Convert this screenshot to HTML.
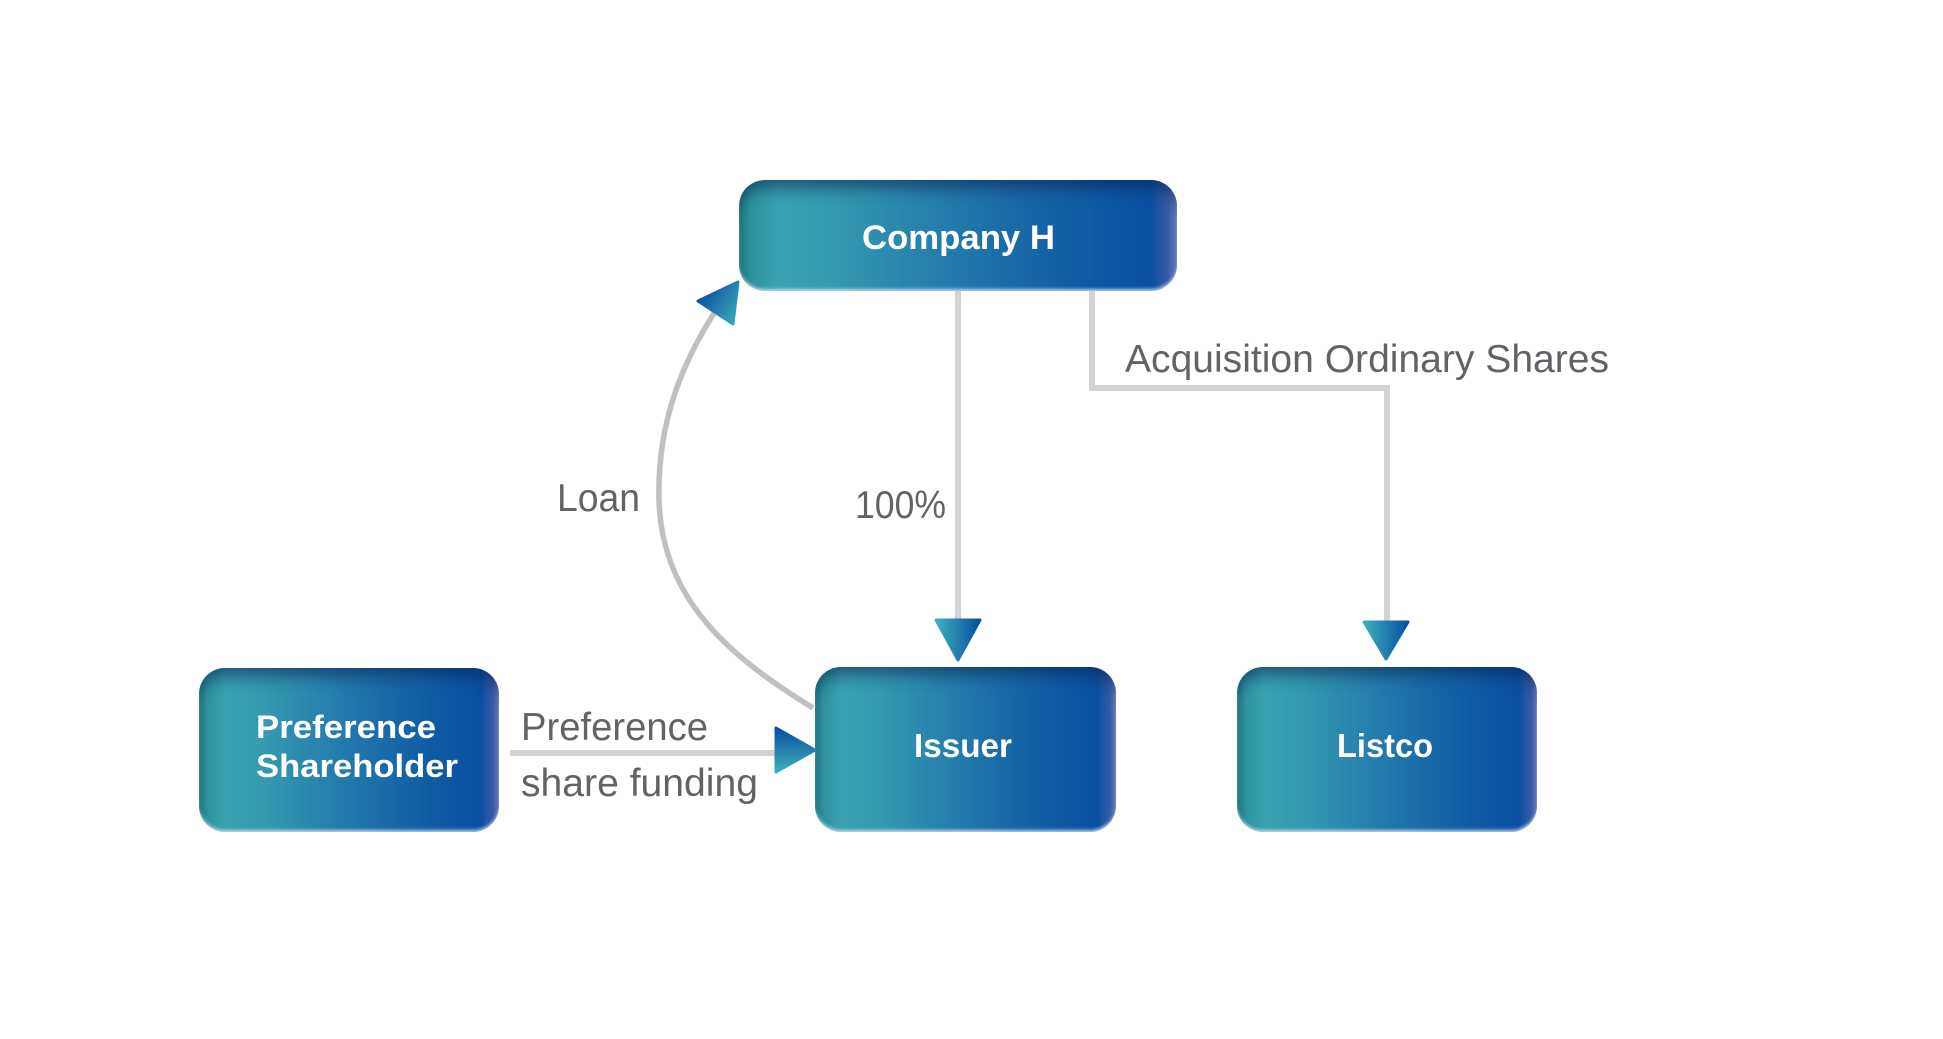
<!DOCTYPE html>
<html>
<head>
<meta charset="utf-8">
<style>
  html, body { margin:0; padding:0; background:#ffffff; }
  body { width:1943px; height:1039px; position:relative; overflow:hidden; }
  .box {
    position:absolute;
    border-radius:26px;
    background: linear-gradient(90deg, #1d7a84 0%, #2f939f 3%, #3aa1b1 9%, #3599b0 22%, #2983ae 40%, #1b6aa8 62%, #0c56a2 84%, #0a4f9f 94%, #3a5ca8 98%, #6a7cb6 100%);
    box-shadow: inset 0 18px 16px -10px rgba(10,38,82,0.62), inset 0 -3px 3px -1px rgba(215,225,242,0.85);
  }
  svg { position:absolute; left:0; top:0; }
</style>
</head>
<body>
  <div class="box" style="left:739px; top:180px; width:438px; height:111px;"></div>
  <div class="box" style="left:199px; top:668px; width:300px; height:164px;"></div>
  <div class="box" style="left:815px; top:667px; width:301px; height:165px;"></div>
  <div class="box" style="left:1237px; top:667px; width:300px; height:165px;"></div>

  <svg width="1943" height="1039" viewBox="0 0 1943 1039" xmlns="http://www.w3.org/2000/svg">
    <defs>
      <linearGradient id="gDown" x1="0" y1="0" x2="1" y2="0">
        <stop offset="0" stop-color="#3cb0bc"/>
        <stop offset="1" stop-color="#0a4e9f"/>
      </linearGradient>
      <linearGradient id="gRight" x1="0" y1="0" x2="0" y2="1">
        <stop offset="0" stop-color="#0a4e9f"/>
        <stop offset="1" stop-color="#3cb0bc"/>
      </linearGradient>
      <linearGradient id="gLoan" x1="0" y1="0.3" x2="1" y2="1">
        <stop offset="0" stop-color="#0a4e9f"/>
        <stop offset="1" stop-color="#3cb0bc"/>
      </linearGradient>
    </defs>

    <!-- Company H -> Issuer -->
    <line x1="958" y1="291" x2="958" y2="624" stroke="#d3d3d5" stroke-width="6"/>
    <polygon points="936,620 980,620 958,660" fill="url(#gDown)" stroke="url(#gDown)" stroke-width="3" stroke-linejoin="round"/>

    <!-- Company H -> Listco -->
    <polyline points="1092,291 1092,388 1387,388 1387,624" fill="none" stroke="#d3d3d5" stroke-width="6"/>
    <polygon points="1364,622 1408,622 1386,659" fill="url(#gDown)" stroke="url(#gDown)" stroke-width="3" stroke-linejoin="round"/>

    <!-- Preference share funding -->
    <line x1="510" y1="753" x2="778" y2="753" stroke="#d3d3d5" stroke-width="6"/>
    <polygon points="776,728 776,772 815,750" fill="url(#gRight)" stroke="url(#gRight)" stroke-width="3" stroke-linejoin="round"/>

    <!-- Loan curve -->
    <path d="M813,708 C730,657 662,600 659,500 C657,420 684,360 716,310" fill="none" stroke="#bfc0c4" stroke-width="5.5"/>
    <polygon points="738,282 698,301 733,324" fill="url(#gLoan)" stroke="url(#gLoan)" stroke-width="3" stroke-linejoin="round"/>

    <!-- Labels -->
    <g font-family="'Liberation Sans', sans-serif" font-size="39" fill="#626367">
      <text x="1125" y="372" textLength="484" lengthAdjust="spacingAndGlyphs">Acquisition Ordinary Shares</text>
      <text x="855" y="518" textLength="91" lengthAdjust="spacingAndGlyphs">100%</text>
      <text x="557" y="511" textLength="83" lengthAdjust="spacingAndGlyphs">Loan</text>
      <text x="521" y="740" textLength="187" lengthAdjust="spacingAndGlyphs">Preference</text>
      <text x="521" y="796" textLength="237" lengthAdjust="spacingAndGlyphs">share funding</text>
    </g>

    <!-- Box text -->
    <g font-family="'Liberation Sans', sans-serif" font-weight="bold" fill="#ffffff">
      <text x="862" y="249" font-size="34" textLength="193" lengthAdjust="spacingAndGlyphs">Company H</text>
      <text x="914" y="757" font-size="33" textLength="98" lengthAdjust="spacingAndGlyphs">Issuer</text>
      <text x="1337" y="757" font-size="33" textLength="96" lengthAdjust="spacingAndGlyphs">Listco</text>
      <text x="256" y="738" font-size="32" textLength="180" lengthAdjust="spacingAndGlyphs">Preference</text>
      <text x="256" y="777" font-size="32" textLength="202" lengthAdjust="spacingAndGlyphs">Shareholder</text>
    </g>
  </svg>
</body>
</html>
